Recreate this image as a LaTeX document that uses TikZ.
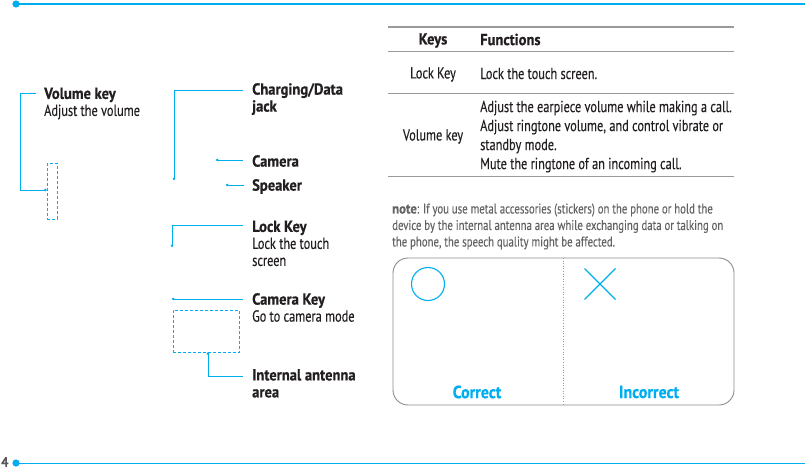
\documentclass[tikz,border=0pt]{standalone}
\usepackage{fontspec}
\setmainfont[FakeStretch=0.77,FakeBold=0.25,BoldFeatures={FakeStretch=0.91,FakeBold=0.6}]{PT Sans}
\usetikzlibrary{arrows.meta}
\definecolor{cyanline}{HTML}{00AEEF}
\definecolor{inktext}{HTML}{231F20}
\definecolor{ruleline}{HTML}{9A9A9A}
\tikzset{
  x=1pt,y=-1pt,
  lbl/.style={anchor=north west,inner sep=0pt,align=left,text=inktext,font=\fontsize{16}{17}\selectfont},
  cell/.style={inner sep=0pt,text=inktext,font=\fontsize{16}{17}\selectfont},
  leader/.style={draw=cyanline,line width=0.8pt,-{Circle[length=2.5pt]}},
  dashbox/.style={draw=cyanline,dashed,line width=0.7pt,inner sep=0pt,dash pattern=on 3pt off 2pt},
  tabrule/.style={draw=ruleline,line width=0.7pt}
}
\begin{document}
\begin{tikzpicture}
  \useasboundingbox (0,0) rectangle (805,468);

  \fill[cyanline] (16,4) circle (3.6);
  \draw[cyanline,line width=1.3pt] (16,4) -- (805,4);
  \fill[cyanline] (16,463) circle (3.6);
  \draw[cyanline,line width=0.8pt] (16,463) -- (805,463);
  \node[anchor=west,inner sep=0pt,text=inktext!75,font=\fontsize{14}{16}\selectfont\bfseries] (pagenum) at (1,462) {4};

  \node[lbl] (volkey) at (44,87.5) {\textbf{Volume key}\\Adjust the volume};
  \node[lbl] (chgjack) at (252,83) {\textbf{Charging/Data}\\\textbf{jack}};
  \node[lbl] (camera) at (252,155) {\textbf{Camera}};
  \node[lbl] (speaker) at (252,179) {\textbf{Speaker}};
  \node[lbl] (lockkey) at (252,220.5) {\textbf{Lock Key}\\Lock the touch\\screen};
  \node[lbl] (camkey) at (252,293) {\textbf{Camera Key}\\Go to camera mode};
  \node[lbl] (antenna) at (252,369) {\textbf{Internal antenna}\\\textbf{area}};

  \node[dashbox,minimum width=10pt,minimum height=55.5pt] (volbox) at (52,191.2) {};
  \node[dashbox,minimum width=66.5pt,minimum height=42pt] (antbox) at (206.3,331) {};
  \coordinate (chgend) at (174,180);
  \coordinate (camend) at (216,160);
  \coordinate (spkend) at (226,185);
  \coordinate (lockend) at (172,247);
  \coordinate (keyend) at (172,299);

  \draw[leader] ([shift={(-8,6)}]volkey.north west) -- (20.5,93.5) -- (20.5,190) -- (volbox.west |- 0,190);
  \draw[leader] ([shift={(-9,7)}]chgjack.north west) -- (174,90) -- (chgend);
  \draw[leader] ([shift={(-9,5)}]camera.north west) -- (camend);
  \draw[leader] ([shift={(-8,6)}]speaker.north west) -- (spkend);
  \draw[leader] ([shift={(-9,4.5)}]lockkey.north west) -- (172,225) -- (lockend);
  \draw[leader] ([shift={(-9,6)}]camkey.north west) -- (keyend);
  \draw[leader] ([shift={(-9,7)}]antenna.north west) -- (208,376) -- (antbox.south -| 208,0);

  \draw[tabrule,line width=1.3pt] (388,27) -- (734,27);
  \draw[tabrule] (388,51) -- (734,51);
  \draw[tabrule] (388,93) -- (734,93);
  \draw[tabrule] (388,176) -- (734,176);
  \node[cell,font=\fontsize{16}{17}\selectfont\bfseries] (keyshead) at (433,40.5) {Keys};
  \node[cell,anchor=west,font=\fontsize{16}{17}\selectfont\bfseries] (funchead) at (480,39.5) {Functions};
  \node[cell] (lockcell) at (433,74.5) {Lock Key};
  \node[cell,anchor=west] (lockfunc) at (480,73.5) {Lock the touch screen.};
  \node[cell] (volcell) at (433,136.5) {Volume key};
  \node[cell,anchor=north west,align=left,font=\fontsize{16}{19}\selectfont] (volfunc) at (480,100.5)
  {Adjust the earpiece volume while making a call.\\Adjust ringtone volume, and control vibrate or\\standby mode.\\Mute the ringtone of an incoming call.};

  \node[anchor=north west,inner sep=0pt,align=left,text=inktext!70,font=\fontsize{14}{16.5}\selectfont] (notetext) at (392,203.3)
  {\textbf{note}: If you use metal accessories (stickers) on the phone or hold the\\device by the internal antenna area while exchanging data or talking on\\the phone, the speech quality might be affected.};

  \draw[draw=ruleline!90!black,line width=0.9pt,rounded corners=15] (393,258) rectangle (734,405);
  \draw[ruleline,line width=0.6pt,dotted] (563,258) -- (563,405);
  \node[circle,draw=cyanline,line width=1.1pt,minimum size=33pt,inner sep=0pt] (okmark) at (428,284) {};
  \draw[cyanline,line width=1.1pt] (584.5,268.5) -- (615.5,299.5);
  \draw[cyanline,line width=1.1pt] (615.5,268.5) -- (584.5,299.5);
  \node[inner sep=0pt,text=cyanline,font=\fontsize{17.5}{20}\selectfont\bfseries] (correct) at (477,392) {Correct};
  \node[inner sep=0pt,text=cyanline,font=\fontsize{17.5}{20}\selectfont\bfseries] (incorrect) at (649,392) {Incorrect};
\end{tikzpicture}
\end{document}
